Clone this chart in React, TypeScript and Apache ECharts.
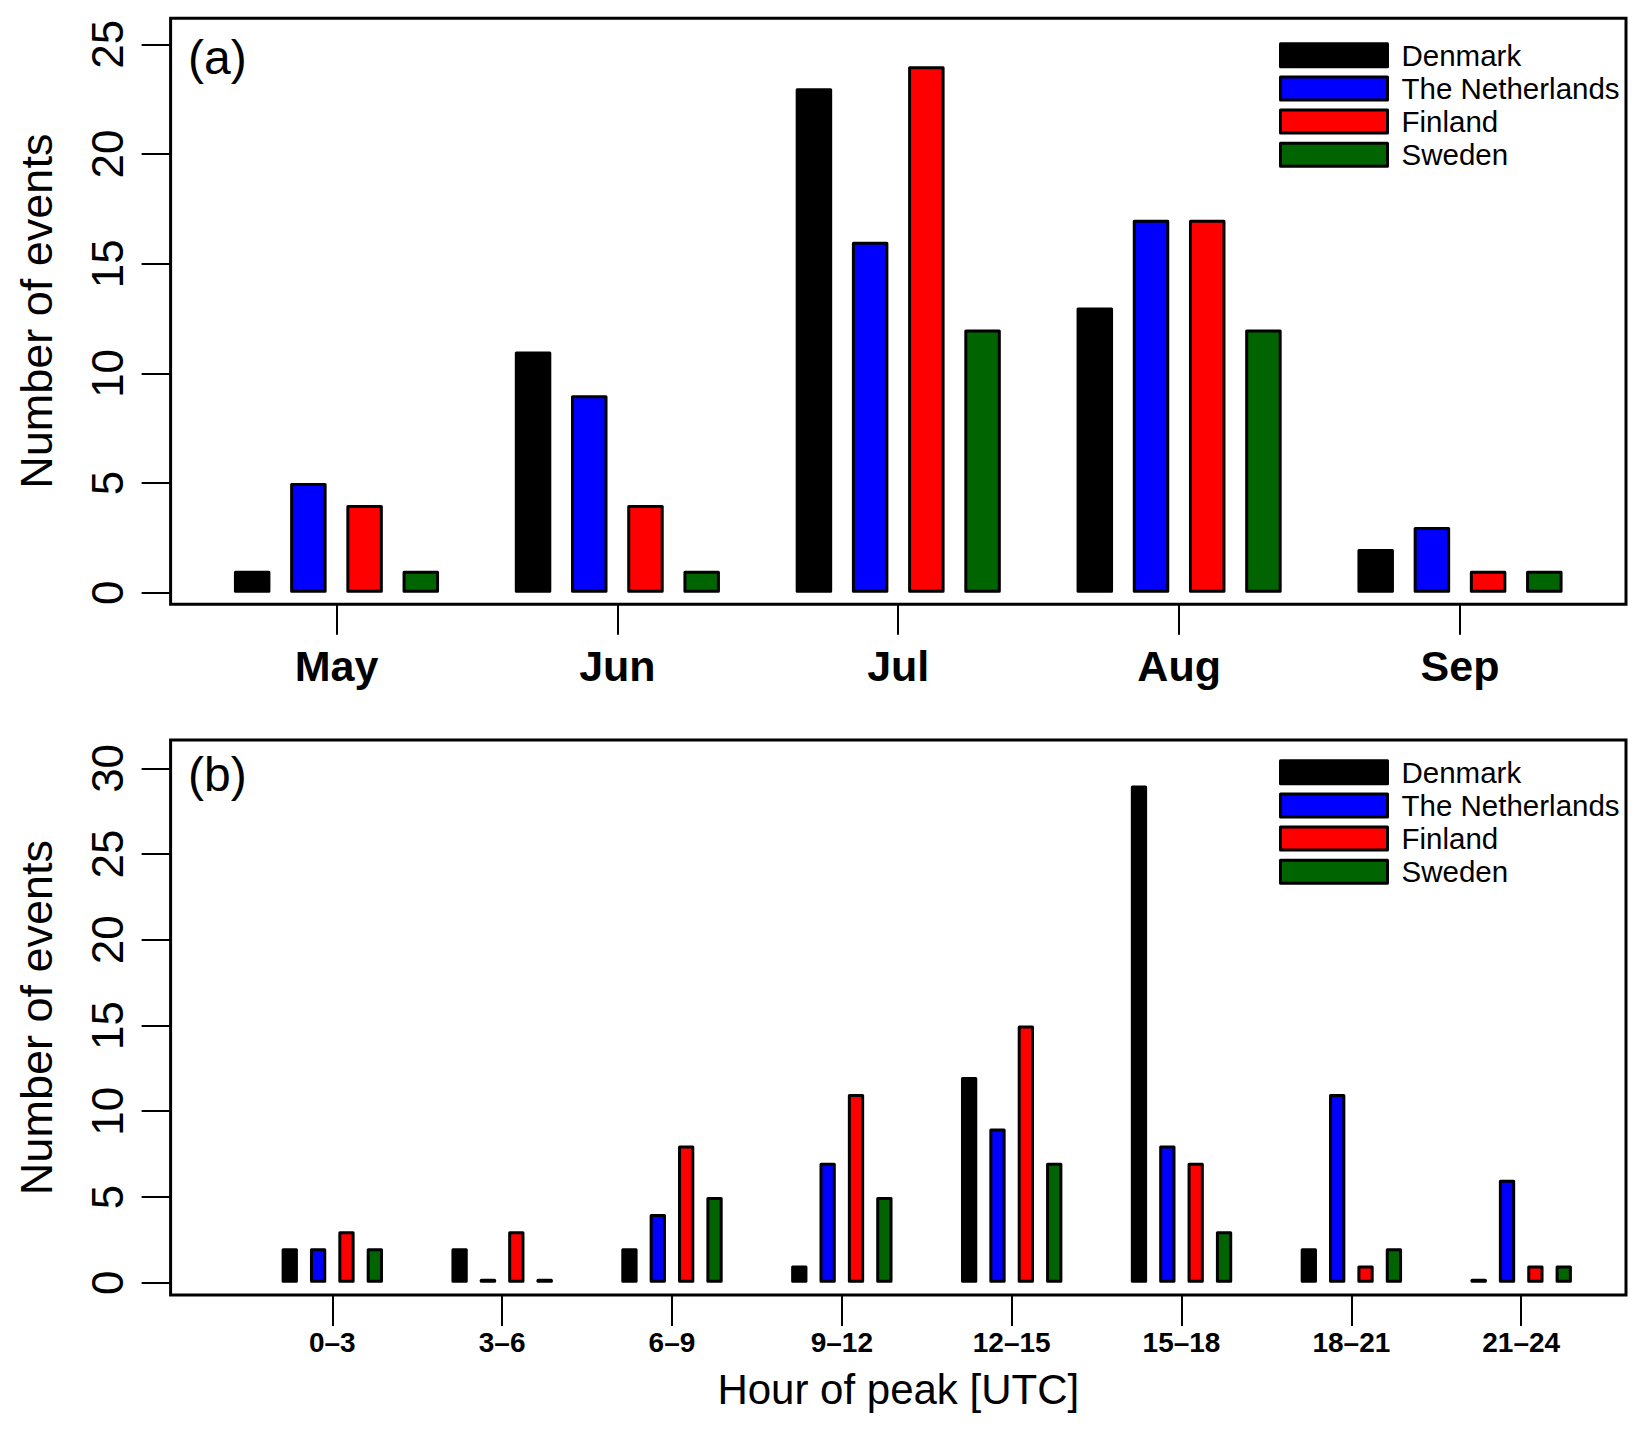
import { useEffect, useRef } from 'react';
import * as echarts from 'echarts';

const months = ['May', 'Jun', 'Jul', 'Aug', 'Sep'];
const hours = ['0–3', '3–6', '6–9', '9–12', '12–15', '15–18', '18–21', '21–24'];
const countries = ['Denmark', 'The Netherlands', 'Finland', 'Sweden'];
const countryColors = ['#000000', '#0000ff', '#ff0000', '#006400'];

// panel (a): events per month
const monthDenmark = [1, 11, 23, 13, 2];
const monthNetherlands = [5, 9, 16, 17, 3];
const monthFinland = [4, 4, 24, 17, 1];
const monthSweden = [1, 1, 12, 12, 1];

// panel (b): events per hour of peak
const hourDenmark = [2, 2, 2, 1, 12, 29, 2, 0];
const hourNetherlands = [2, 0, 4, 7, 9, 8, 11, 6];
const hourFinland = [3, 3, 8, 11, 15, 7, 1, 1];
const hourSweden = [2, 0, 5, 5, 7, 3, 2, 1];

const monthTicks = [0, 5, 10, 15, 20, 25];
const hourTicks = [0, 5, 10, 15, 20, 25, 30];

const FONT = 'Liberation Sans, Arial, Helvetica, sans-serif';

const App = () => {
  const chartRef = useRef<HTMLDivElement>(null);

  useEffect(() => {
    if (!chartRef.current) return;
    document.body.style.margin = '0';
    const chart = echarts.init(chartRef.current, null, { renderer: 'svg' });

    const monthSeries = [monthDenmark, monthNetherlands, monthFinland, monthSweden];
    const hourSeries = [hourDenmark, hourNetherlands, hourFinland, hourSweden];

    const barStyle = (i: number) => ({
      color: countryColors[i],
      borderColor: '#000',
      borderWidth: 3,
      borderJoin: 'round',
    });

    const yAxisBase = (gridIndex: number, min: number, max: number, ticks: number[]) => ({
      type: 'value' as const,
      gridIndex,
      min,
      max,
      name: 'Number of events',
      nameLocation: 'middle' as const,
      nameGap: 112,
      nameRotate: 90,
      nameTextStyle: { fontSize: 45, fontFamily: FONT, color: '#000' },
      axisLine: { show: false, onZero: false },
      splitLine: { show: false },
      axisTick: {
        show: true,
        length: 29,
        customValues: ticks,
        lineStyle: { color: '#000', width: 2 },
      },
      axisLabel: {
        customValues: ticks,
        rotate: 90,
        margin: 41,
        fontSize: 44,
        fontFamily: FONT,
        color: '#000',
      },
    });

    const legendBase = (top: number) => ({
      orient: 'vertical' as const,
      left: 1279,
      top,
      padding: 0,
      itemWidth: 107,
      itemHeight: 23,
      itemGap: 3.2,
      icon: 'rect',
      selectedMode: false,
      data: countries,
      itemStyle: { borderColor: '#000', borderWidth: 3, borderJoin: 'round' },
      textStyle: {
        fontSize: 29.5,
        fontFamily: FONT,
        color: '#000',
        padding: [0, 0, 0, 9],
      },
    });

    chart.setOption({
      animation: false,
      backgroundColor: '#fff',
      title: [
        {
          text: '(a)',
          left: 188,
          top: 33,
          padding: 0,
          textStyle: { fontSize: 48, fontWeight: 'normal', fontFamily: FONT, color: '#000' },
        },
        {
          text: '(b)',
          left: 188,
          top: 750,
          padding: 0,
          textStyle: { fontSize: 48, fontWeight: 'normal', fontFamily: FONT, color: '#000' },
        },
      ],
      legend: [legendBase(40.2), legendBase(757.2)],
      grid: [
        {
          left: 170.6,
          top: 18.2,
          width: 1455.4,
          height: 586,
          show: true,
          borderColor: '#000',
          borderWidth: 3,
          backgroundColor: 'transparent',
        },
        {
          left: 170.6,
          top: 740.1,
          width: 1455.4,
          height: 554.9,
          show: true,
          borderColor: '#000',
          borderWidth: 3,
          backgroundColor: 'transparent',
        },
      ],
      xAxis: [
        {
          type: 'value',
          gridIndex: 0,
          min: -0.5906,
          max: 4.591,
          axisLine: { show: false, onZero: false },
          splitLine: { show: false },
          axisTick: {
            show: true,
            length: 30.5,
            customValues: months.map((_, i) => i),
            lineStyle: { color: '#000', width: 2 },
          },
          axisLabel: {
            customValues: months.map((_, i) => i),
            formatter: (v: number) => months[Math.round(v)] ?? '',
            margin: 40,
            fontSize: 43,
            fontWeight: 'bold',
            fontFamily: FONT,
            color: '#000',
          },
        },
        {
          type: 'value',
          gridIndex: 1,
          min: -0.952,
          max: 7.617,
          name: 'Hour of peak [UTC]',
          nameLocation: 'middle',
          nameGap: 73,
          nameTextStyle: { fontSize: 42, fontFamily: FONT, color: '#000' },
          axisLine: { show: false, onZero: false },
          splitLine: { show: false },
          axisTick: {
            show: true,
            length: 31,
            customValues: hours.map((_, i) => i),
            lineStyle: { color: '#000', width: 2 },
          },
          axisLabel: {
            customValues: hours.map((_, i) => i),
            formatter: (v: number) => hours[Math.round(v)] ?? '',
            margin: 33,
            fontSize: 28,
            fontWeight: 'bold',
            fontFamily: FONT,
            color: '#000',
          },
        },
      ],
      yAxis: [
        yAxisBase(0, -0.52, 26.19, monthTicks),
        yAxisBase(1, -0.72, 31.65, hourTicks),
      ],
      series: [
        ...monthSeries.map((vals, i) => ({
          name: countries[i],
          type: 'bar',
          xAxisIndex: 0,
          yAxisIndex: 0,
          barWidth: 36.5,
          barGap: '54%',
          itemStyle: barStyle(i),
          data: vals.map((v, j) => [j, v]),
        })),
        ...hourSeries.map((vals, i) => ({
          name: countries[i],
          type: 'bar',
          xAxisIndex: 1,
          yAxisIndex: 1,
          barWidth: 16.3,
          barGap: '74%',
          barMinHeight: 4,
          itemStyle: barStyle(i),
          data: vals.map((v, j) => [j, v]),
        })),
      ],
    });

    return () => {
      chart.dispose();
    };
  }, []);

  return (
    <div
      ref={chartRef}
      style={{ position: 'absolute', left: 0, top: 0, width: 1646, height: 1430 }}
    />
  );
};

export default App;
